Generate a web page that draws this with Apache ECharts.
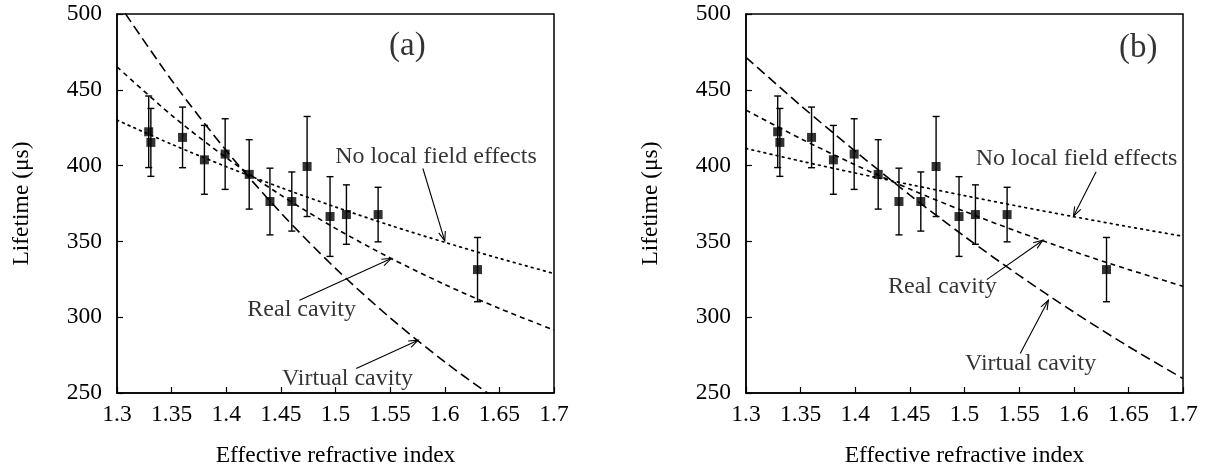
<!DOCTYPE html>
<html>
<head>
<meta charset="utf-8">
<title>Lifetime vs effective refractive index</title>
<script src="https://cdn.jsdelivr.net/npm/echarts@6/dist/echarts.min.js"></script>
<style>
  html, body { margin: 0; padding: 0; background: #fff; }
  #main { width: 1217px; height: 468px; }
</style>
</head>
<body>
<div id="main"></div>
<script>
// x grid for the model curves
var curveN = [1.3, 1.35, 1.4, 1.45, 1.5, 1.55, 1.6, 1.65, 1.7];

// (a) model curves
var aNoLocal  = [430.0, 414.1, 399.3, 385.5, 372.7, 360.6, 349.4, 338.8, 328.8];
var aReal     = [465.2, 433.2, 405.2, 380.5, 358.6, 339.1, 321.6, 305.8, 291.5];
var aVirtual  = [508.4, 456.3, 409.9, 368.8, 332.2, 299.6, 270.5, 244.6, 221.4];

// (b) model curves
var bNoLocal  = [411.3, 403.0, 395.1, 387.5, 380.2, 373.1, 366.3, 359.7, 353.4];
var bReal     = [436.6, 417.8, 400.5, 384.5, 369.8, 356.1, 343.3, 331.5, 320.4];
var bVirtual  = [471.4, 439.7, 409.5, 380.6, 353.3, 327.6, 303.4, 280.7, 259.5];

// measured points (same in both panels)
var measN    = [1.329, 1.331, 1.36, 1.38, 1.399, 1.421, 1.44, 1.46, 1.474, 1.495, 1.51, 1.539, 1.63];
var measLife = [422.3, 415.3, 418.6, 403.8, 407.6, 394.2, 376.3, 376.3, 399.4, 366.4, 367.7, 367.7, 331.4];
var measErr  = [23.6, 22.4, 20, 22.7, 23.3, 22.9, 22, 19.5, 33, 26.3, 19.6, 18, 21.2];

// tick labels
var yTicks = [250, 300, 350, 400, 450, 500];
var xTicks = [1.3, 1.35, 1.4, 1.45, 1.5, 1.55, 1.6, 1.65, 1.7];

// annotations: text [n, lifetime, label] and arrows [fromN, fromLife, toN, toLife]
var aLabels = [[1.592, 405.8, 'No local field effects'], [1.469, 305, 'Real cavity'], [1.511, 259.5, 'Virtual cavity']];
var aArrows = [[1.580, 398.1, 1.600, 350.3], [1.467, 311.2, 1.551, 338.7], [1.519, 266.1, 1.5756, 284.8]];
var bLabels = [[1.6025, 404.7, 'No local field effects'], [1.4797, 320, 'Real cavity'], [1.5605, 269.4, 'Virtual cavity']];
var bArrows = [[1.6205, 395.9, 1.5997, 366.6], [1.5204, 324.8, 1.5717, 350.8], [1.551, 276, 1.5768, 311.2]];
var panelTags = [[1.5658, 478.4, '(a)'], [1.659, 477.3, '(b)']];

var FONT = 'Liberation Serif';

function pairs(xs, ys) {
    return xs.map(function (x, i) { return [x, ys[i]]; });
}

function fmtX(v) {
    return String(+v.toFixed(2));
}

function renderErr(params, api) {
    var x = api.value(0), lo = api.value(1), hi = api.value(2);
    var pl = api.coord([x, lo]), ph = api.coord([x, hi]);
    var cap = 3.5;
    var st = { stroke: '#000', lineWidth: 1.4 };
    return {
        type: 'group',
        children: [
            { type: 'line', shape: { x1: pl[0], y1: pl[1], x2: ph[0], y2: ph[1] }, style: st },
            { type: 'line', shape: { x1: pl[0] - cap, y1: pl[1], x2: pl[0] + cap, y2: pl[1] }, style: st },
            { type: 'line', shape: { x1: ph[0] - cap, y1: ph[1], x2: ph[0] + cap, y2: ph[1] }, style: st }
        ]
    };
}

function renderArrow(params, api) {
    var p0 = api.coord([api.value(0), api.value(1)]);
    var p1 = api.coord([api.value(2), api.value(3)]);
    var ang = Math.atan2(p1[1] - p0[1], p1[0] - p0[0]);
    var h = 10, w = 0.35;
    var a = [p1[0] - h * Math.cos(ang - w), p1[1] - h * Math.sin(ang - w)];
    var b = [p1[0] - h * Math.cos(ang + w), p1[1] - h * Math.sin(ang + w)];
    var st = { stroke: '#000', lineWidth: 1.1, fill: null };
    return {
        type: 'group',
        children: [
            { type: 'line', shape: { x1: p0[0], y1: p0[1], x2: p1[0], y2: p1[1] }, style: st },
            { type: 'polyline', shape: { points: [a, p1, b] }, style: st }
        ]
    };
}

function panelSeries(idx, noLocal, real, virt, labels, arrows, tag) {
    var base = { xAxisIndex: idx, yAxisIndex: idx, silent: true, animation: false };
    function ext(o) { return Object.assign({}, base, o); }
    var errData = measN.map(function (n, i) { return [n, measLife[i] - measErr[i], measLife[i] + measErr[i]]; });
    var textData = labels.concat([tag]).map(function (l) {
        return {
            value: [l[0], l[1]],
            name: l[2],
            label: { fontSize: l[2].charAt(0) === '(' ? 33 : 24 }
        };
    });
    return [
        ext({ type: 'line', data: pairs(curveN, noLocal), showSymbol: false, smooth: 0.3, clip: true,
              lineStyle: { color: '#000', width: 1.7, type: [1.7, 4.5], cap: 'round' } }),
        ext({ type: 'line', data: pairs(curveN, real), showSymbol: false, smooth: 0.3, clip: true,
              lineStyle: { color: '#000', width: 1.6, type: [5, 4] } }),
        ext({ type: 'line', data: pairs(curveN, virt), showSymbol: false, smooth: 0.3, clip: true,
              lineStyle: { color: '#000', width: 1.6, type: [10, 5] } }),
        ext({ type: 'custom', renderItem: renderErr, data: errData, z: 3 }),
        ext({ type: 'scatter', data: pairs(measN, measLife), symbol: 'rect', symbolSize: 9,
              itemStyle: { color: '#000' }, z: 4 }),
        ext({ type: 'custom', renderItem: renderArrow, data: arrows, z: 3 }),
        ext({ type: 'scatter', data: textData, symbolSize: 0, z: 5,
              label: { show: true, position: 'inside', color: '#000', fontFamily: FONT,
                       formatter: function (p) { return p.name; } } })
    ];
}

function xAxisFor(idx) {
    return {
        gridIndex: idx, type: 'value', min: 1.3, max: 1.7, interval: 0.05,
        name: 'Effective refractive index', nameLocation: 'middle', nameGap: 51,
        nameTextStyle: { fontFamily: FONT, fontSize: 23.5, color: '#000' },
        axisLine: { show: true, lineStyle: { color: '#000', width: 1.5 } },
        axisTick: { show: true, inside: true, length: 6, lineStyle: { color: '#000', width: 1.2 } },
        axisLabel: { fontFamily: FONT, fontSize: 23.5, color: '#000', margin: 10, formatter: fmtX,
                     customValues: xTicks },
        splitLine: { show: false }
    };
}

function yAxisFor(idx) {
    return {
        gridIndex: idx, type: 'value', min: 250, max: 500, interval: 50,
        name: 'Lifetime (μs)', nameLocation: 'middle', nameGap: 83,
        nameTextStyle: { fontFamily: FONT, fontSize: 23.5, color: '#000' },
        axisLine: { show: true, lineStyle: { color: '#000', width: 1.5 } },
        axisTick: { show: true, inside: true, length: 6, lineStyle: { color: '#000', width: 1.2 } },
        axisLabel: { fontFamily: FONT, fontSize: 23.5, color: '#000', margin: 15 },
        splitLine: { show: false }
    };
}

var chart = echarts.init(document.getElementById('main'), null, { renderer: 'canvas' });
var option = {
    backgroundColor: '#fff',
    animation: false,
    grid: [
        { left: 117, top: 14, width: 437, height: 379, show: true, borderColor: '#000', borderWidth: 1.5,
          backgroundColor: 'transparent', outerBoundsMode: 'none', containLabel: false },
        { left: 746, top: 14, width: 437, height: 379, show: true, borderColor: '#000', borderWidth: 1.5,
          backgroundColor: 'transparent', outerBoundsMode: 'none', containLabel: false }
    ],
    xAxis: [xAxisFor(0), xAxisFor(1)],
    yAxis: [yAxisFor(0), yAxisFor(1)],
    series: panelSeries(0, aNoLocal, aReal, aVirtual, aLabels, aArrows, panelTags[0])
        .concat(panelSeries(1, bNoLocal, bReal, bVirtual, bLabels, bArrows, panelTags[1]))
};
chart.setOption(option);
</script>
</body>
</html>
